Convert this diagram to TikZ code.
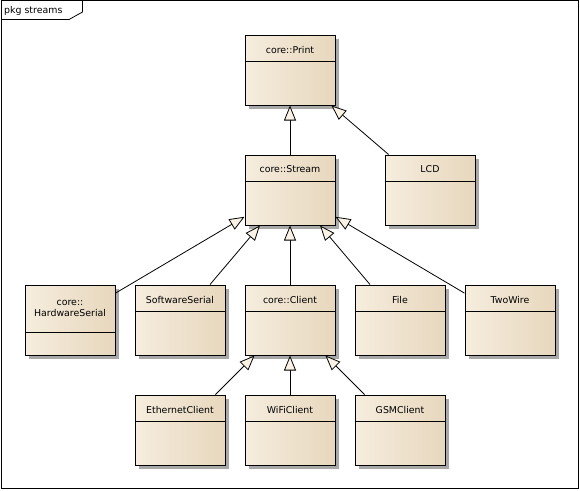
\documentclass[tikz,border=0pt]{standalone}
\usepackage{fontspec}
\setmainfont{DejaVu Sans}
\usetikzlibrary{arrows.meta,shadows}
\definecolor{cL}{RGB}{246,237,222}
\definecolor{cM}{RGB}{250,243,232}
\definecolor{cR}{RGB}{231,215,189}
\definecolor{shadowgray}{RGB}{168,168,168}
\definecolor{tipfill}{RGB}{250,242,228}
\tikzset{
  classbox/.style={draw=black, line width=1pt, minimum width=90pt, minimum height=70pt,
    inner sep=0pt, left color=cL, middle color=cM, right color=cR,
    drop shadow={shadow xshift=4pt, shadow yshift=-4pt, fill=shadowgray, opacity=1}},
  classname/.style={font=\fontsize{9.4}{12}\selectfont, inner sep=0pt, align=center},
  sep/.style={line width=1pt},
  inherit/.style={line width=0.8pt, -{Triangle[length=15pt, width=12pt, fill=tipfill, line width=0.8pt]}},
}
\begin{document}
\begin{tikzpicture}[x=1pt, y=-1pt]
\useasboundingbox (0,0) rectangle (580,490);
% frame
\draw[line width=1pt] (1.5,0.5) rectangle (578.5,488.5);
\draw[line width=0.8pt] (1.5,19.5) -- (69,19.5) -- (82.5,12) -- (82.5,0.5);
\node[classname, anchor=west] (pkg) at (4,11) {pkg streams};
% classes
\node[classbox] (print) at (290,70) {};
\node[classbox] (stream) at (290,190) {};
\node[classbox] (lcd) at (430,190) {};
\node[classbox] (hw) at (70,320) {};
\node[classbox] (sw) at (180,320) {};
\node[classbox] (client) at (290,320) {};
\node[classbox] (file) at (400,320) {};
\node[classbox] (twowire) at (510,320) {};
\node[classbox] (eth) at (180,430) {};
\node[classbox] (wifi) at (290,430) {};
\node[classbox] (gsm) at (400,430) {};
% separators
\foreach \n in {print,stream,lcd,sw,client,file,twowire,eth,wifi,gsm}{
  \draw[sep] ([yshift=-27pt]\n.north west) -- ([yshift=-27pt]\n.north east);
}
\draw[sep] ([yshift=-48pt]hw.north west) -- ([yshift=-48pt]hw.north east);
% names
\node[classname] (nprint) at (290,49.5) {core::Print};
\node[classname] (nstream) at (290,169.5) {core::Stream};
\node[classname] (nlcd) at (430,169.5) {LCD};
\node[classname] (nhw) at (70,308) {core::\\[-1pt]HardwareSerial};
\node[classname] (nsw) at (180,299.5) {SoftwareSerial};
\node[classname] (nclient) at (290,299.5) {core::Client};
\node[classname] (nfile) at (400,299.5) {File};
\node[classname] (ntwowire) at (510,299.5) {TwoWire};
\node[classname] (neth) at (180,409.5) {EthernetClient};
\node[classname] (nwifi) at (290,409.5) {WiFiClient};
\node[classname] (ngsm) at (400,409.5) {GSMClient};
% generalizations
\draw[inherit] (stream) -- (print);
\draw[inherit] (lcd) -- (print);
\draw[inherit] (hw) -- (stream);
\draw[inherit] (sw) -- (stream);
\draw[inherit] (client) -- (stream);
\draw[inherit] (file) -- (stream);
\draw[inherit] (twowire) -- (stream);
\draw[inherit] (eth) -- (client);
\draw[inherit] (wifi) -- (client);
\draw[inherit] (gsm) -- (client);
\end{tikzpicture}
\end{document}
